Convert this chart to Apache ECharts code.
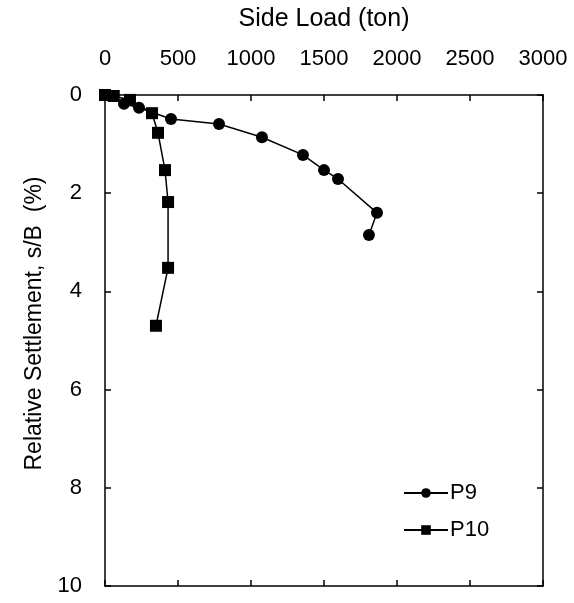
<!DOCTYPE html>
<html>
<head>
<meta charset="utf-8">
<script src="https://cdn.jsdelivr.net/npm/echarts@6/dist/echarts.min.js"></script>
<style>
  html, body { margin: 0; padding: 0; background: #fff; }
  #main { width: 574px; height: 603px; }
</style>
</head>
<body>
<div id="main"></div>
<script>
// data: side load (ton) vs relative settlement s/B (%)
let p9Load = [0, 130, 233, 452, 781, 1075, 1356, 1500, 1596, 1863, 1808];
let p9Settle = [0, 0.18, 0.26, 0.49, 0.59, 0.86, 1.22, 1.53, 1.71, 2.40, 2.85];
let p10Load = [0, 60, 171, 322, 363, 411, 432, 432, 349];
let p10Settle = [0, 0.02, 0.10, 0.37, 0.77, 1.53, 2.18, 3.52, 4.70];
let xTicks = [0, 500, 1000, 1500, 2000, 2500, 3000];
let yTicks = [0, 2, 4, 6, 8, 10];

let font = "'Liberation Sans', Arial, sans-serif";

function pairs(xs, ys) {
    return xs.map(function (x, i) { return [x, ys[i]]; });
}

let dom = document.getElementById("main");
let myChart = echarts.init(dom, null, {
    renderer: "canvas",
    useDirtyRect: false,
});

let axisLine = { show: true, onZero: false, lineStyle: { color: "#000", width: 1.5 } };
let tickIn = { show: true, inside: true, length: 6, lineStyle: { color: "#000", width: 1.5 } };

let option = {
    backgroundColor: "#fff",
    animation: false,
    grid: {
        left: 105,
        top: 95,
        right: 31,
        bottom: 17,
        containLabel: false,
    },
    legend: {
        orient: "vertical",
        left: 403,
        top: 482,
        padding: 0,
        itemWidth: 44,
        itemHeight: 12,
        itemGap: 15,
        textStyle: { fontFamily: font, fontSize: 22, color: "#000", padding: [0, 0, 0, -3] },
        data: ["P9", "P10"],
    },
    xAxis: [{
        type: "value",
        position: "top",
        min: xTicks[0],
        max: xTicks[xTicks.length - 1],
        interval: 500,
        name: "Side Load (ton)",
        nameLocation: "middle",
        nameGap: 63,
        nameTextStyle: { fontFamily: font, fontSize: 25, color: "#000" },
        axisLine: axisLine,
        axisTick: tickIn,
        axisLabel: {
            margin: 25, fontFamily: font, fontSize: 22, color: "#000",
            formatter: function (v) { return String(v); },
        },
        splitLine: { show: false },
    }, {
        type: "value",
        position: "bottom",
        min: xTicks[0],
        max: xTicks[xTicks.length - 1],
        interval: 500,
        axisLine: axisLine,
        axisTick: tickIn,
        axisLabel: { show: false },
        splitLine: { show: false },
    }],
    yAxis: [{
        type: "value",
        inverse: true,
        min: yTicks[0],
        max: yTicks[yTicks.length - 1],
        interval: 2,
        name: "Relative Settlement, s/B  (%)",
        nameLocation: "middle",
        nameGap: 51,
        nameRotate: 90,
        nameTextStyle: { fontFamily: font, fontSize: 23, color: "#000", padding: [0, 0, 0, 34] },
        axisLine: axisLine,
        axisTick: tickIn,
        axisLabel: { margin: 23, fontFamily: font, fontSize: 22, color: "#000" },
        splitLine: { show: false },
    }, {
        type: "value",
        position: "right",
        inverse: true,
        min: yTicks[0],
        max: yTicks[yTicks.length - 1],
        interval: 2,
        axisLine: axisLine,
        axisTick: tickIn,
        axisLabel: { show: false },
        splitLine: { show: false },
    }],
    series: [{
        name: "P9",
        type: "line",
        data: pairs(p9Load, p9Settle),
        symbol: "circle",
        symbolSize: 12,
        itemStyle: { color: "#000" },
        lineStyle: { color: "#000", width: 1.5 },
    }, {
        name: "P10",
        type: "line",
        data: pairs(p10Load, p10Settle),
        symbol: "rect",
        symbolSize: 12,
        itemStyle: { color: "#000" },
        lineStyle: { color: "#000", width: 1.5 },
    }],
};

if (option && typeof option === "object") {
    myChart.setOption(option);
}

window.addEventListener("resize", myChart.resize);
</script>
</body>
</html>
